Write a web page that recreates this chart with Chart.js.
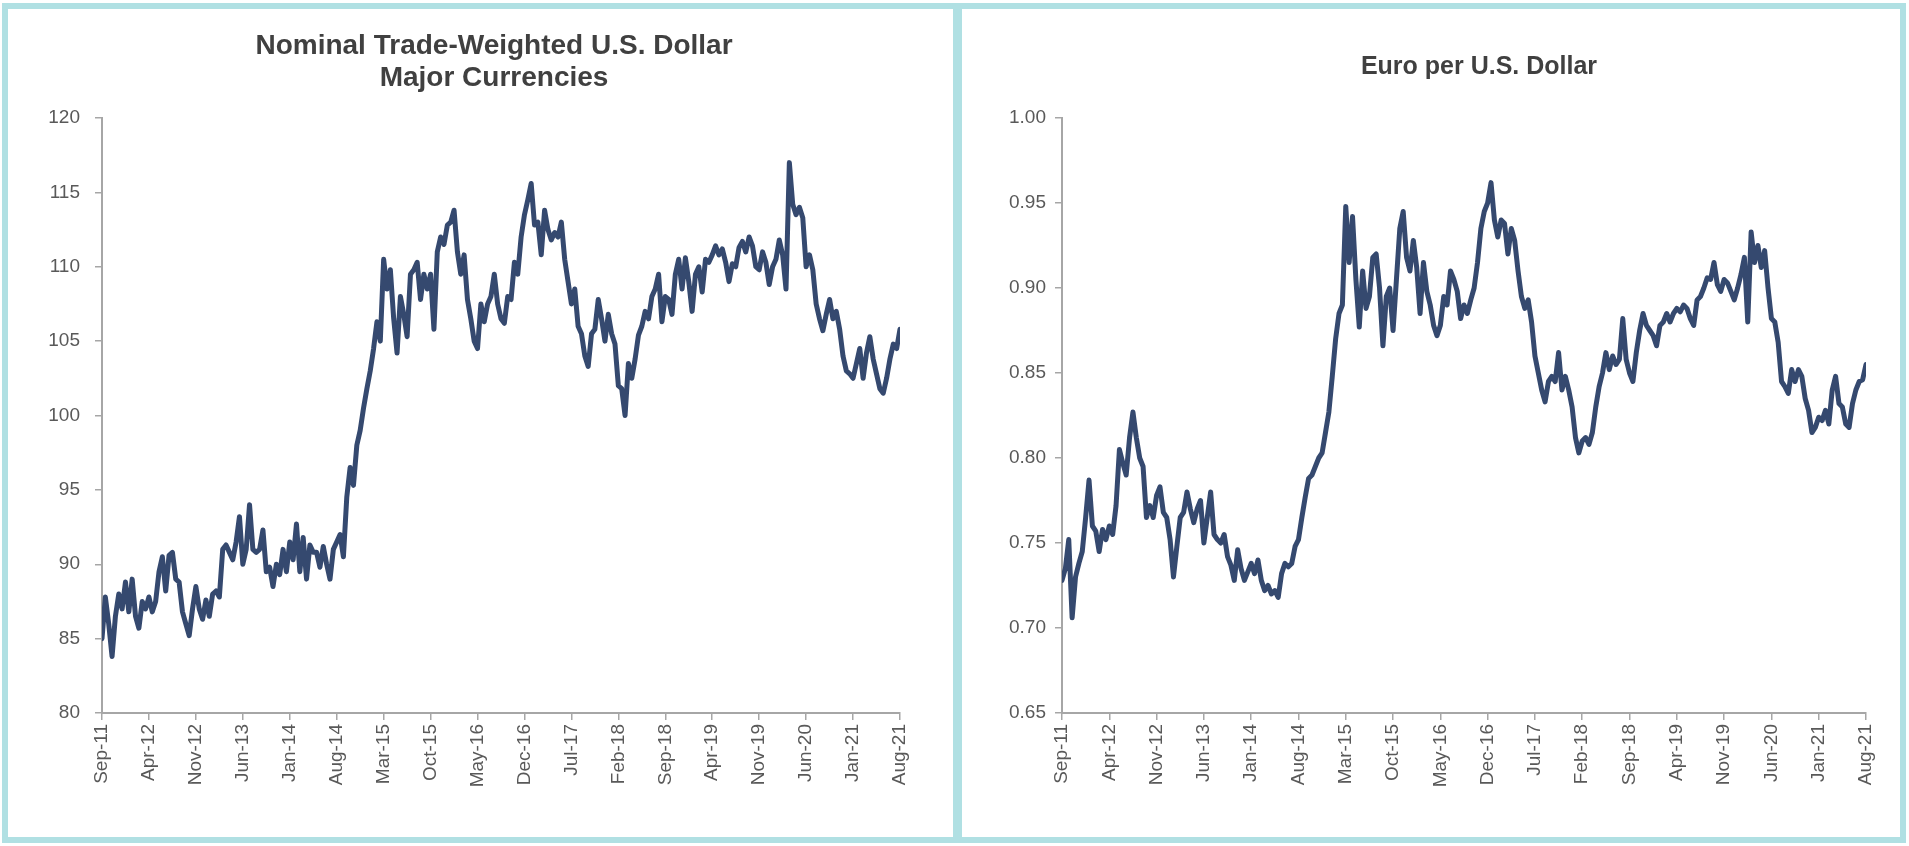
<!DOCTYPE html>
<html>
<head>
<meta charset="utf-8">
<script src="https://cdn.jsdelivr.net/npm/chart.js@4"></script>
<style>
  html, body { margin: 0; padding: 0; background: #fff; overflow: hidden; }
  body { width: 1909px; height: 846px; position: relative; }
  .panel { position: absolute; top: 3px; height: 840px; box-sizing: border-box; border: 6px solid #b0e0e3; }
  .box { position: absolute; top: 0; height: 846px; }
</style>
</head>
<body>
<div class="panel" style="left:2px;width:957px"></div>
<div class="panel" style="left:956px;width:950px"></div>
<div class="box" style="left:40px;width:908px"><canvas id="usdChart"></canvas></div>
<div class="box" style="left:1000px;width:906px"><canvas id="eurChart"></canvas></div>
<script>
// two readings a month, Sep-11 .. Aug-21
const pointsPerMonth = 2;
const tickLabels = ['Sep-11', 'Apr-12', 'Nov-12', 'Jun-13', 'Jan-14', 'Aug-14', 'Mar-15', 'Oct-15', 'May-16',
    'Dec-16', 'Jul-17', 'Feb-18', 'Sep-18', 'Apr-19', 'Nov-19', 'Jun-20', 'Jan-21', 'Aug-21'];
const tickEvery = 7; // months between labels

const usdTitle = ['Nominal Trade-Weighted U.S. Dollar', 'Major Currencies'];
const eurTitle = ['Euro per U.S. Dollar'];

const usdIndex = [
    85.0, 87.8, 86.0, 83.8, 86.5, 88.0, 87.0, 88.8, 86.8, 89.0,
    86.5, 85.7, 87.5, 87.0, 87.8, 86.8, 87.5, 89.5, 90.5, 88.2,
    90.6, 90.8, 89.0, 88.8, 86.8, 86.0, 85.2, 87.0, 88.5, 87.0,
    86.3, 87.6, 86.5, 88.0, 88.2, 87.8, 91.0, 91.3, 90.8, 90.3,
    91.5, 93.2, 90.0, 91.0, 94.0, 91.0, 90.8, 91.0, 92.3, 89.5,
    89.8, 88.5, 90.0, 89.3, 91.0, 89.5, 91.5, 90.3, 92.7, 89.5,
    91.8, 89.0, 91.3, 90.8, 90.8, 89.8, 91.2, 90.0, 89.0, 91.0,
    91.5, 92.0, 90.5, 94.5, 96.5, 95.3, 98.0, 99.0, 100.5, 101.8,
    103.0, 104.5, 106.3, 105.0, 110.5, 108.5, 109.8, 106.5, 104.2, 108.0,
    106.8, 105.3, 109.5, 109.8, 110.3, 107.8, 109.5, 108.5, 109.5, 105.8,
    111.0, 112.0, 111.5, 112.8, 113.0, 113.8, 111.0, 109.5, 110.8, 107.8,
    106.5, 105.0, 104.5, 107.5, 106.3, 107.5, 108.0, 109.5, 107.5, 106.5,
    106.2, 108.0, 107.8, 110.3, 109.5, 112.0, 113.5, 114.5, 115.6, 112.8,
    113.0, 110.8, 113.8, 112.5, 111.8, 112.3, 112.0, 113.0, 110.5, 109.0,
    107.5, 108.5, 106.0, 105.5, 104.0, 103.3, 105.5, 105.8, 107.8, 106.5,
    105.0, 106.8, 105.5, 104.8, 102.0, 101.8, 100.0, 103.5, 102.5, 103.8,
    105.4, 106.0, 107.0, 106.5, 108.0, 108.5, 109.5, 106.3, 108.0, 107.8,
    106.8, 109.5, 110.5, 108.5, 110.6, 109.0, 107.0, 109.5, 110.0, 108.3,
    110.5, 110.3, 110.8, 111.4, 110.8, 111.2, 110.3, 109.0, 110.2, 110.0,
    111.3, 111.7, 111.0, 112.0, 111.4, 110.0, 109.8, 111.0, 110.3, 108.8,
    110.0, 110.5, 111.8, 110.8, 108.5, 117.0, 114.2, 113.5, 114.0, 113.3,
    110.0, 110.8, 109.8, 107.5, 106.5, 105.7, 106.8, 107.8, 106.5, 107.0,
    105.8, 104.0, 103.0, 102.8, 102.5, 103.5, 104.5, 102.5, 104.2, 105.3,
    103.8, 102.8, 101.8, 101.5, 102.5, 103.8, 104.8, 104.5, 105.8
];

const eurPerUsd = [
    0.728, 0.735, 0.752, 0.706, 0.730, 0.738, 0.745, 0.765, 0.787, 0.760,
    0.757, 0.745, 0.758, 0.752, 0.760, 0.755, 0.772, 0.805, 0.797, 0.790,
    0.812, 0.827, 0.812, 0.800, 0.795, 0.765, 0.772, 0.765, 0.778, 0.783,
    0.768, 0.765, 0.752, 0.730, 0.748, 0.765, 0.768, 0.780, 0.770, 0.762,
    0.770, 0.775, 0.750, 0.765, 0.780, 0.755, 0.752, 0.750, 0.755, 0.742,
    0.737, 0.728, 0.746, 0.735, 0.728, 0.733, 0.738, 0.732, 0.740, 0.728,
    0.722, 0.725, 0.720, 0.722, 0.718, 0.732, 0.738, 0.736, 0.738, 0.748,
    0.752, 0.765, 0.777, 0.788, 0.790, 0.795, 0.800, 0.803, 0.815, 0.827,
    0.848, 0.870, 0.885, 0.890, 0.948, 0.915, 0.942, 0.905, 0.877, 0.910,
    0.888, 0.895, 0.918, 0.920, 0.900, 0.866, 0.895, 0.900, 0.875, 0.905,
    0.935, 0.945, 0.918, 0.910, 0.928, 0.912, 0.885, 0.915, 0.898, 0.890,
    0.878, 0.872, 0.878, 0.895, 0.890, 0.910, 0.905, 0.898, 0.882, 0.890,
    0.885, 0.893, 0.900, 0.915, 0.935, 0.945, 0.950, 0.962, 0.940, 0.930,
    0.940, 0.938, 0.920, 0.935, 0.928, 0.910, 0.895, 0.888, 0.893, 0.880,
    0.860, 0.850, 0.840, 0.833, 0.845, 0.848, 0.845, 0.862, 0.840, 0.848,
    0.840, 0.830, 0.812, 0.803, 0.810, 0.812, 0.808, 0.815, 0.830, 0.842,
    0.850, 0.862, 0.852, 0.860, 0.855, 0.858, 0.882, 0.858, 0.850, 0.845,
    0.862, 0.875, 0.885, 0.878, 0.875, 0.872, 0.866, 0.878, 0.880, 0.885,
    0.880, 0.885, 0.888, 0.886, 0.890, 0.888, 0.882, 0.878, 0.893, 0.895,
    0.900, 0.906, 0.905, 0.915, 0.902, 0.898, 0.905, 0.903, 0.898, 0.893,
    0.900, 0.908, 0.918, 0.880, 0.933, 0.915, 0.925, 0.912, 0.922, 0.900,
    0.882, 0.880, 0.868, 0.845, 0.842, 0.838, 0.852, 0.845, 0.852, 0.848,
    0.835, 0.828, 0.815, 0.818, 0.824, 0.822, 0.828, 0.820, 0.840, 0.848,
    0.832, 0.830, 0.820, 0.818, 0.832, 0.840, 0.845, 0.846, 0.855
];

const lineColor = '#35496f';
const axisColor = '#a6a6a6';
const labelColor = '#595959';
const fontFamily = '"Liberation Sans", Arial, sans-serif';
const lastMonth = (tickLabels.length - 1) * tickEvery;

const panelTitle = {
    id: 'panelTitle',
    afterDraw(chart, args, opts) {
        const ctx = chart.ctx;
        const area = chart.chartArea;
        ctx.save();
        ctx.font = 'bold ' + opts.size + 'px ' + fontFamily;
        ctx.fillStyle = '#404040';
        ctx.textAlign = 'center';
        ctx.textBaseline = 'middle';
        const cx = (area.left + area.right) / 2 + opts.dx;
        opts.lines.forEach((t, i) => ctx.fillText(t, cx, opts.top + i * 32));
        ctx.restore();
    }
};

function makeChart(id, values, yMin, yMax, yStep, digits, title, padRight, labelPad) {
    new Chart(document.getElementById(id), {
        type: 'line',
        data: {
            datasets: [{
                data: values.map((v, i) => ({ x: i / pointsPerMonth, y: v })),
                borderColor: lineColor,
                borderWidth: 5,
                pointRadius: 0,
                tension: 0,
                borderJoinStyle: 'round',
                borderCapStyle: 'round'
            }]
        },
        options: {
            responsive: true,
            maintainAspectRatio: false,
            animation: false,
            layout: { padding: { top: 118, right: padRight, bottom: 33, left: 0 } },
            plugins: {
                legend: { display: false },
                tooltip: { enabled: false },
                panelTitle: title
            },
            scales: {
                x: {
                    type: 'linear',
                    min: 0,
                    max: lastMonth,
                    grid: { display: true, drawOnChartArea: false, drawTicks: true, tickLength: 7, color: axisColor, lineWidth: 1.5 },
                    border: { display: true, color: axisColor, width: 2 },
                    ticks: {
                        stepSize: tickEvery,
                        autoSkip: false,
                        maxTicksLimit: 30,
                        maxRotation: 90,
                        minRotation: 90,
                        padding: 4,
                        color: labelColor,
                        font: { family: fontFamily, size: 19 },
                        callback: v => tickLabels[Math.round(v / tickEvery)]
                    },
                    afterFit: s => { s.height = 100; s.paddingLeft = 0; s.paddingRight = 0; }
                },
                y: {
                    min: yMin,
                    max: yMax,
                    grid: { display: true, drawOnChartArea: false, drawTicks: true, tickLength: 7, color: axisColor, lineWidth: 1.5 },
                    border: { display: true, color: axisColor, width: 2 },
                    ticks: {
                        stepSize: yStep,
                        padding: labelPad,
                        color: labelColor,
                        font: { family: fontFamily, size: 19 },
                        callback: v => Number(v).toFixed(digits)
                    },
                    afterFit: s => { s.width = 62; s.paddingTop = 0; s.paddingBottom = 0; }
                }
            }
        },
        plugins: [panelTitle]
    });
}

makeChart('usdChart', usdIndex, 80, 120, 5, 0, { lines: usdTitle, top: 46, dx: -7, size: 28 }, 48, 15);
makeChart('eurChart', eurPerUsd, 0.65, 1.0, 0.05, 2, { lines: eurTitle, top: 67, dx: 15, size: 25 }, 40, 9);
</script>
</body>
</html>
